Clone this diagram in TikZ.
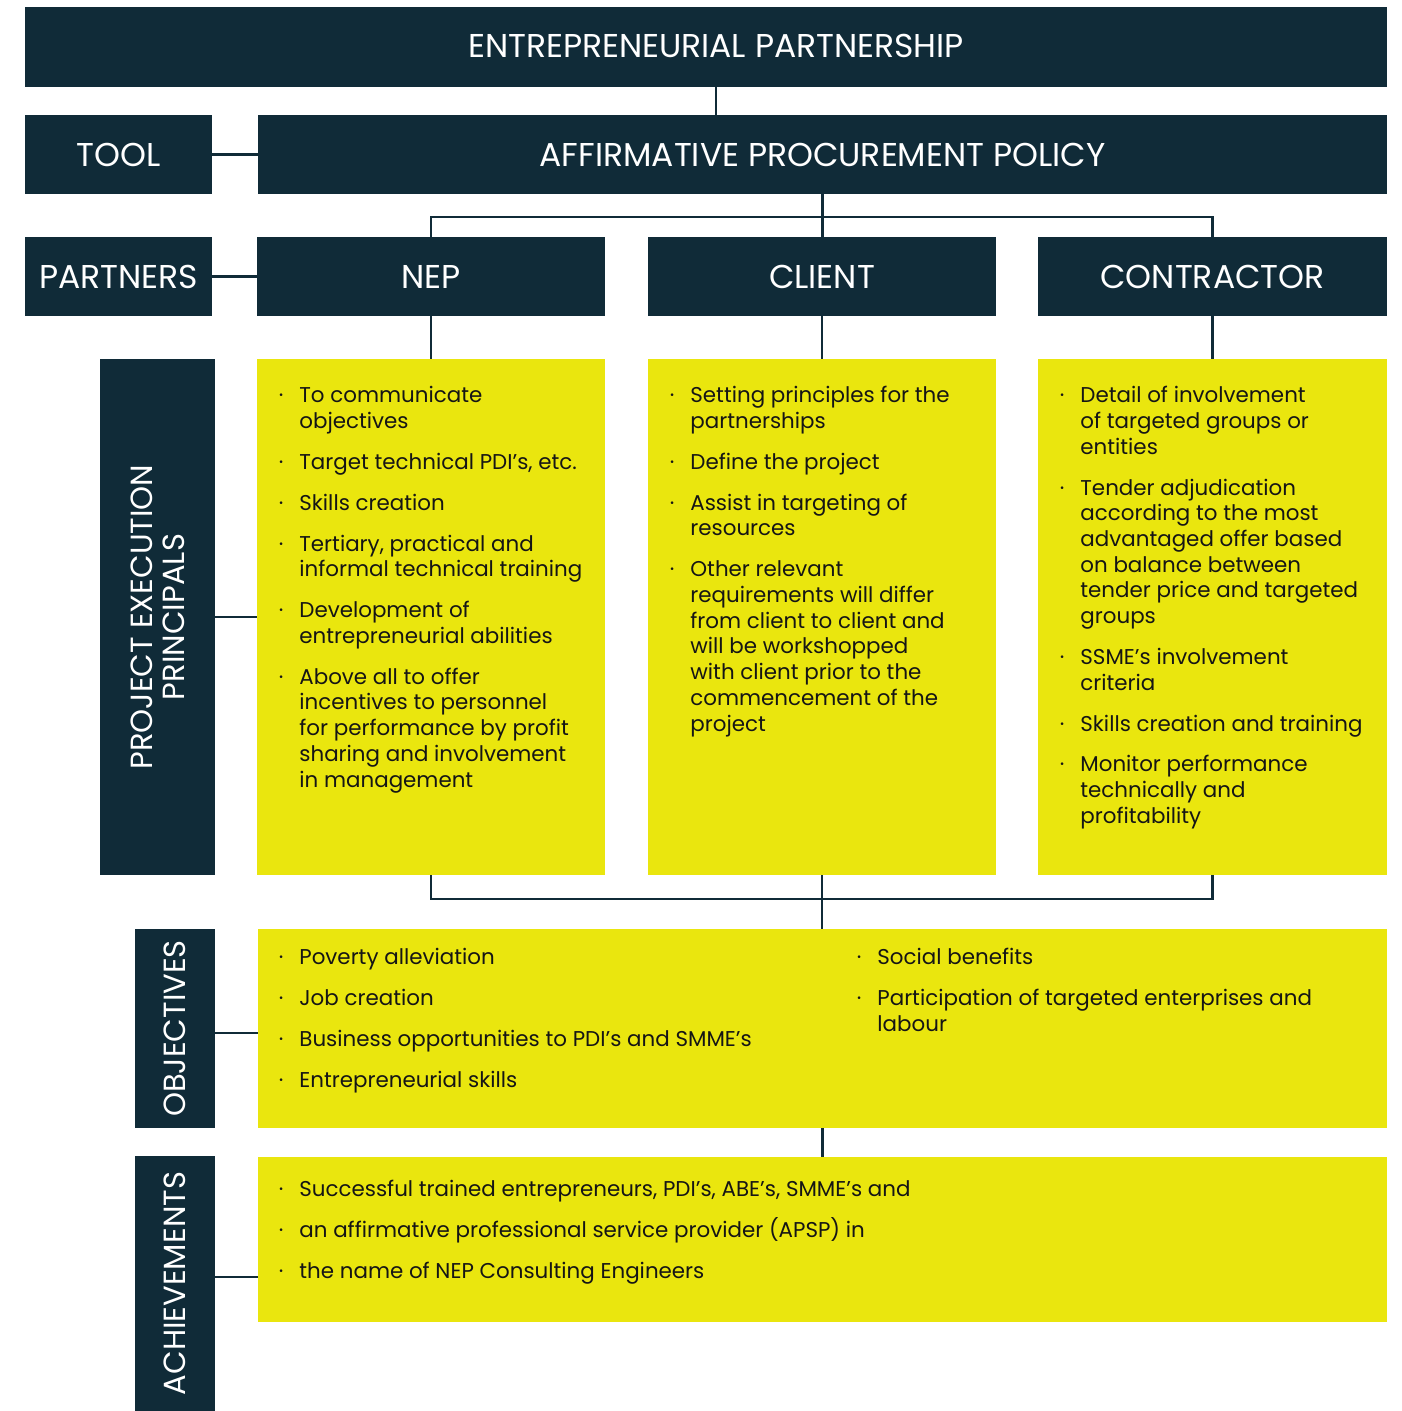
\documentclass[tikz,border=0pt]{standalone}
\usepackage{fontspec}
\setmainfont{Poppins}
\usetikzlibrary{positioning}

\definecolor{navy}{HTML}{102B38}
\definecolor{lemon}{HTML}{EAE60E}
\definecolor{ink}{HTML}{151515}

\newcommand{\bul}{\llap{·\hspace{8pt}}}

\tikzset{
  darkbox/.style={fill=navy, text=white, inner sep=0pt, outer sep=0pt, anchor=north west},
  yelbox/.style={fill=lemon, inner sep=0pt, outer sep=0pt, anchor=north west},
  headtext/.style={text=white, inner sep=0pt, font=\fontsize{16.5}{18}\selectfont, align=center},
  sidetext/.style={headtext, rotate=90, font=\fontsize{15.3}{16}\selectfont},
  listtext/.style={anchor=north west, inner sep=0pt, align=left, text=ink,
    font=\fontsize{10.7}{12.85}\selectfont},
  link/.style={draw=navy, line width=1.25pt},
}

\begin{document}
\begin{tikzpicture}[x=0.5pt, y=-0.5pt]
    \useasboundingbox (0,0) rectangle (1401,1411);

    % Top row
    \node[darkbox, minimum width=681pt, minimum height=40pt] (top) at (25,7) {};
    \node[headtext] (toptitle) at (716,46) {ENTREPRENEURIAL PARTNERSHIP};

    % Tool row
    \node[darkbox, minimum width=93.5pt, minimum height=39.5pt] (tool) at (25,115) {};
    \node[headtext] at (tool.center) {TOOL};
    \node[darkbox, minimum width=564.5pt, minimum height=39.5pt] (app) at (258,115) {};
    \node[headtext] at (app.center) {AFFIRMATIVE PROCUREMENT POLICY};

    % Partners row
    \node[darkbox, minimum width=93.5pt, minimum height=39.5pt] (partners) at (25,237) {};
    \node[headtext] at (partners.center) {PARTNERS};
    \node[darkbox, minimum width=174pt, minimum height=39.5pt] (nep) at (257,237) {};
    \node[headtext] at (nep.center) {NEP};
    \node[darkbox, minimum width=174pt, minimum height=39.5pt] (client) at (648,237) {};
    \node[headtext] at (client.center) {CLIENT};
    \node[darkbox, minimum width=174.5pt, minimum height=39.5pt] (contractor) at (1038,237) {};
    \node[headtext] at (contractor.center) {CONTRACTOR};

    % Project execution principals
    \node[darkbox, minimum width=57.5pt, minimum height=258pt] (pep) at (100,359) {};
    \node[sidetext] at (pep.center) {PROJECT EXECUTION\\PRINCIPALS};
    \node[yelbox, minimum width=174pt, minimum height=258pt] (nepY) at (257,359) {};
    \node[yelbox, minimum width=174pt, minimum height=258pt] (clientY) at (648,359) {};
    \node[yelbox, minimum width=174.5pt, minimum height=258pt] (contrY) at (1038,359) {};

    \node[listtext] (neplist) at (299,386) {%
      \bul To communicate\\ objectives\\[7.6pt]
      \bul Target technical PDI’s, etc.\\[7.6pt]
      \bul Skills creation\\[7.6pt]
      \bul Tertiary, practical and\\ informal technical training\\[7.6pt]
      \bul Development of\\ entrepreneurial abilities\\[7.6pt]
      \bul Above all to offer\\ incentives to personnel\\ for performance by profit\\ sharing and involvement\\ in management};

    \node[listtext] (clientlist) at (690,386) {%
      \bul Setting principles for the\\ partnerships\\[7.6pt]
      \bul Define the project\\[7.6pt]
      \bul Assist in targeting of\\ resources\\[7.6pt]
      \bul Other relevant\\ requirements will differ\\ from client to client and\\ will be workshopped\\ with client prior to the\\ commencement of the\\ project};

    \node[listtext] (contrlist) at (1080,386) {%
      \bul Detail of involvement\\ of targeted groups or\\ entities\\[7.6pt]
      \bul Tender adjudication\\ according to the most\\ advantaged offer based\\ on balance between\\ tender price and targeted\\ groups\\[7.6pt]
      \bul SSME’s involvement\\ criteria\\[7.6pt]
      \bul Skills creation and training\\[7.6pt]
      \bul Monitor performance\\ technically and\\ profitability};

    % Objectives
    \node[darkbox, minimum width=40pt, minimum height=99.5pt] (obj) at (135,929) {};
    \node[sidetext] at (obj.center) {OBJECTIVES};
    \node[yelbox, minimum width=564.5pt, minimum height=99.5pt] (objY) at (258,929) {};
    \node[listtext] (objleft) at (299,948) {%
      \bul Poverty alleviation\\[7.6pt]
      \bul Job creation\\[7.6pt]
      \bul Business opportunities to PDI’s and SMME’s\\[7.6pt]
      \bul Entrepreneurial skills};
    \node[listtext] (objright) at (877,948) {%
      \bul Social benefits\\[7.6pt]
      \bul Participation of targeted enterprises and\\ labour};

    % Achievements
    \node[darkbox, minimum width=40pt, minimum height=127.5pt] (ach) at (135,1156) {};
    \node[sidetext] at (ach.center) {ACHIEVEMENTS};
    \node[yelbox, minimum width=564.5pt, minimum height=82.5pt] (achY) at (258,1157) {};
    \node[listtext] (achlist) at (299,1180) {%
      \bul Successful trained entrepreneurs, PDI’s, ABE’s, SMME’s and\\[7.6pt]
      \bul an affirmative professional service provider (APSP) in\\[7.6pt]
      \bul the name of NEP Consulting Engineers};

    % Connections
    \coordinate (bus) at (0,217);
    \coordinate (lowbus) at (0,899);
    \draw[link] (toptitle |- top.south) -- (toptitle |- app.north);
    \draw[link] (tool.east) -- (app.west);
    \draw[link] (partners.east) -- (nep.west);
    \draw[link] (app.south) -- (app.south |- client.north);
    \draw[link] (nep.north) -- (nep.north |- bus) -- (contractor.north |- bus) -- (contractor.north);
    \draw[link] (nep.south) -- (nepY.north);
    \draw[link] (client.south) -- (clientY.north);
    \draw[link] (contractor.south) -- (contrY.north);
    \draw[link] (pep.east) -- (nepY.west);
    \draw[link] (nepY.south) -- (nepY.south |- lowbus) -- (contrY.south |- lowbus) -- (contrY.south);
    \draw[link] (clientY.south) -- (clientY.south |- objY.north);
    \draw[link] ([yshift=-2.25pt]obj.east) -- ([yshift=-2.25pt]obj.east -| objY.west);
    \draw[link] (objY.south) -- (achY.north);
    \draw[link] ([yshift=3.25pt]ach.east) -- ([yshift=3.25pt]ach.east -| achY.west);

\end{tikzpicture}
\end{document}
